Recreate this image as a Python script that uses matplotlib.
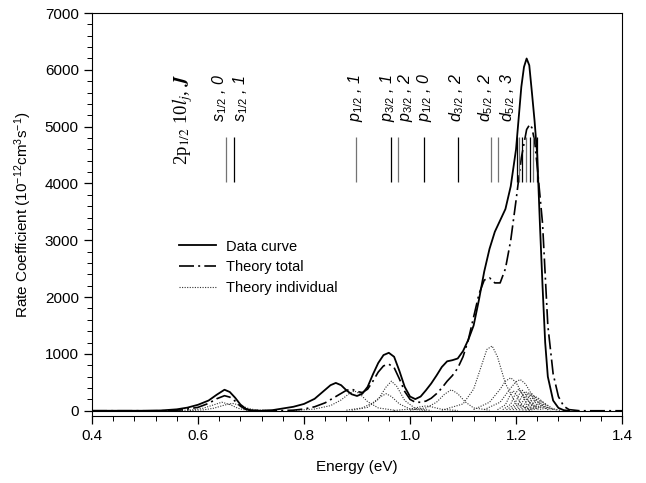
import matplotlib

matplotlib.use("Agg")
import matplotlib.pyplot as plt
from matplotlib.ticker import MultipleLocator

plt.rcParams["font.family"] = ["Liberation Sans", "DejaVu Sans"]
plt.rcParams["mathtext.fontset"] = "custom"
plt.rcParams["mathtext.rm"] = "Liberation Sans"
plt.rcParams["mathtext.it"] = "Liberation Sans:italic"
plt.rcParams["mathtext.bf"] = "Liberation Sans:bold"

# measured rate coefficient (solid line)
data_e = [0.40, 0.50, 0.53, 0.56, 0.58, 0.60, 0.62, 0.635, 0.65, 0.66, 0.67, 0.68, 0.69, 0.70,
          0.72, 0.74, 0.76, 0.78, 0.80, 0.82, 0.835, 0.85, 0.86, 0.87, 0.88, 0.89, 0.90, 0.91,
          0.92, 0.93, 0.94, 0.95, 0.96, 0.97, 0.98, 0.99, 1.00, 1.01, 1.02, 1.03, 1.04, 1.05,
          1.06, 1.07, 1.08, 1.09, 1.10, 1.11, 1.12, 1.13, 1.14, 1.15, 1.16, 1.17, 1.18, 1.19,
          1.20, 1.21, 1.215, 1.22, 1.225, 1.23, 1.235, 1.24, 1.245, 1.25, 1.255, 1.26, 1.27,
          1.28, 1.29, 1.30]
data_v = [0, 0, 5, 25, 55, 105, 180, 280, 370, 330, 230, 110, 35, 8,
          0, 10, 40, 70, 120, 210, 330, 450, 490, 450, 360, 290, 260, 300,
          420, 640, 840, 980, 1020, 950, 700, 420, 250, 205, 250, 360, 480, 620,
          770, 870, 890, 920, 1050, 1250, 1500, 1950, 2450, 2850, 3150, 3350, 3550, 3950,
          4600, 5700, 6050, 6200, 6080, 5600, 5100, 4500, 3300, 2200, 1200, 600, 180,
          50, 10, 0]

# theory total (dash-dot line)
total_e = [0.40, 0.54, 0.57, 0.60, 0.62, 0.635, 0.65, 0.66, 0.67, 0.68, 0.69, 0.70, 0.75,
           0.78, 0.80, 0.82, 0.84, 0.86, 0.88, 0.89, 0.90, 0.91, 0.92, 0.93, 0.94, 0.95,
           0.96, 0.97, 0.98, 0.99, 1.00, 1.01, 1.02, 1.03, 1.04, 1.05, 1.06, 1.07, 1.08,
           1.09, 1.10, 1.11, 1.12, 1.13, 1.14, 1.15, 1.16, 1.17, 1.18, 1.19, 1.20, 1.21,
           1.22, 1.226, 1.23, 1.235, 1.24, 1.25, 1.26, 1.27, 1.28, 1.29, 1.30, 1.32, 1.40]
total_v = [0, 0, 15, 60, 130, 210, 265, 240, 170, 80, 25, 5, 0,
           10, 30, 70, 140, 250, 360, 380, 340, 320, 380, 520, 680, 790,
           820, 760, 560, 340, 200, 150, 150, 170, 220, 300, 400, 520, 620,
           750, 950, 1250, 1650, 2050, 2300, 2340, 2250, 2250, 2500, 3000, 3700, 4450,
           4950, 5040, 4980, 4750, 4300, 3300, 1500, 650, 250, 80, 20, 0, 0]

# theory, individual levels (dotted lines): (energies, values)
theory_individual = [
    ([0.56, 0.59, 0.61, 0.63, 0.645, 0.66, 0.675, 0.69, 0.72], [3, 15, 45, 105, 150, 110, 45, 12, 2]),
    ([0.58, 0.61, 0.63, 0.65, 0.665, 0.68, 0.695, 0.71, 0.74], [3, 15, 45, 100, 130, 95, 40, 12, 2]),
    ([0.78, 0.82, 0.85, 0.87, 0.885, 0.895, 0.905, 0.92, 0.94, 0.97], [5, 30, 90, 190, 300, 350, 300, 160, 50, 10]),
    ([0.88, 0.91, 0.93, 0.945, 0.955, 0.965, 0.98, 1.00, 1.03], [10, 50, 140, 250, 300, 250, 120, 30, 5]),
    ([0.89, 0.92, 0.94, 0.955, 0.965, 0.975, 0.99, 1.01, 1.04], [10, 60, 200, 420, 520, 430, 180, 40, 5]),
    ([0.97, 1.00, 1.02, 1.03, 1.04, 1.06, 1.09], [5, 30, 70, 85, 70, 25, 5]),
    ([1.00, 1.03, 1.05, 1.065, 1.078, 1.09, 1.105, 1.12, 1.15], [10, 50, 150, 290, 370, 300, 150, 50, 10]),
    ([1.06, 1.10, 1.12, 1.135, 1.145, 1.155, 1.165, 1.18, 1.20, 1.23], [10, 120, 380, 800, 1080, 1140, 950, 480, 120, 15]),
    ([1.12, 1.15, 1.17, 1.18, 1.19, 1.20, 1.215, 1.24], [20, 150, 380, 520, 580, 500, 240, 30]),
    ([1.14, 1.17, 1.19, 1.20, 1.208, 1.218, 1.235, 1.26], [20, 150, 400, 510, 550, 470, 200, 20]),
    ([1.165, 1.18, 1.189, 1.195, 1.201, 1.21, 1.225], [18, 105, 280, 350, 280, 105, 18]),
    ([1.175, 1.19, 1.199, 1.205, 1.211, 1.22, 1.235], [19, 114, 304, 380, 304, 114, 19]),
    ([1.182, 1.197, 1.206, 1.212, 1.218, 1.227, 1.242], [18, 108, 288, 360, 288, 108, 18]),
    ([1.188, 1.203, 1.212, 1.218, 1.224, 1.233, 1.248], [17, 102, 272, 340, 272, 102, 17]),
    ([1.194, 1.209, 1.218, 1.224, 1.230, 1.239, 1.254], [16, 96, 256, 320, 256, 96, 16]),
    ([1.200, 1.215, 1.224, 1.230, 1.236, 1.245, 1.260], [15, 90, 240, 300, 240, 90, 15]),
    ([1.206, 1.221, 1.230, 1.236, 1.242, 1.251, 1.266], [13, 78, 208, 260, 208, 78, 13]),
    ([1.212, 1.227, 1.236, 1.242, 1.248, 1.257, 1.272], [11, 66, 176, 220, 176, 66, 11]),
    ([1.218, 1.233, 1.242, 1.248, 1.254, 1.263, 1.278], [9, 51, 136, 170, 136, 51, 9]),
    ([1.224, 1.239, 1.248, 1.254, 1.260, 1.269, 1.284], [6, 36, 96, 120, 96, 36, 6]),
]

# resonance positions marked above the curves
level_e = [0.653, 0.668, 0.898, 0.964, 0.977, 1.026, 1.091, 1.153, 1.166,
           1.202, 1.205, 1.211, 1.219, 1.226, 1.232, 1.240]
level_shade = ["0.45", "k", "0.45", "k", "0.45", "k", "k", "0.45", "0.45",
               "k", "0.45", "k", "0.45", "k", "0.45", "k"]
level_label_e = [0.641, 0.681, 0.898, 0.958, 0.991, 1.027, 1.088, 1.142, 1.184]
level_labels = [r"$s_{1/2}$ , 0", r"$s_{1/2}$ , 1", r"$p_{1/2}$ , 1", r"$p_{3/2}$ , 1",
                r"$p_{3/2}$ , 2", r"$p_{1/2}$ , 0", r"$d_{3/2}$ , 2", r"$d_{5/2}$ , 2",
                r"$d_{5/2}$ , 3"]

fig = plt.figure(figsize=(6.46, 4.83), dpi=100)
ax = fig.add_axes([0.1424, 0.139, 0.8205, 0.834])

ax.axhline(0, color="k", linewidth=0.8)
for energies, values in theory_individual:
    ax.plot(energies, values, color="0.2", linewidth=0.8, linestyle=(0, (1, 1.3)))
ax.plot(total_e, total_v, color="k", linewidth=1.2, linestyle=(0, (9, 2.5, 1.2, 2.5)))
ax.plot(data_e, data_v, color="k", linewidth=1.3)

ax.vlines(level_e, 4020, 4810, colors=level_shade, linewidth=0.9)
for x, label in zip(level_label_e, level_labels):
    ax.text(x, 5080, label, rotation=90, ha="center", va="bottom",
            fontsize=11.5, fontstyle="italic")
ax.text(0.57, 4330, r"2p$_{1/2}$ 10$l_j$, $\mathbfit{J}$", rotation=90, ha="center",
        va="bottom", fontsize=13.5, family="Liberation Serif", math_fontfamily="stix")

# legend entries drawn as empty lines with the same styles
h1, = ax.plot([], [], color="k", linewidth=1.3, label="Data curve")
h2, = ax.plot([], [], color="k", linewidth=1.2, linestyle=(0, (9, 2.5, 1.2, 2.5)),
              label="Theory total")
h3, = ax.plot([], [], color="0.2", linewidth=0.8, linestyle=(0, (1, 1.3)),
              label="Theory individual")
ax.legend(handles=[h1, h2, h3], loc="center left", bbox_to_anchor=(0.266, 0.447),
          bbox_transform=fig.transFigure, frameon=False, fontsize=10.5,
          borderpad=0, handlelength=2.5, handletextpad=0.7, labelspacing=0.45)

ax.set_xlim(0.4, 1.4)
ax.set_ylim(-90, 7000)
ax.xaxis.set_major_locator(MultipleLocator(0.2))
ax.xaxis.set_minor_locator(MultipleLocator(0.04))
ax.yaxis.set_major_locator(MultipleLocator(1000))
ax.yaxis.set_minor_locator(MultipleLocator(200))
ax.xaxis.set_major_formatter(plt.FuncFormatter(lambda v, p: f"{v:.1f}"))
ax.tick_params(which="both", direction="out", top=False, right=False, labelsize=11)
ax.tick_params(which="major", length=6, width=0.9)
ax.tick_params(which="minor", length=3.5, width=0.7)
ax.set_xlabel("Energy (eV)", fontsize=11, labelpad=12)
ax.set_ylabel(r"Rate Coefficient (10$^{-12}$cm$^{3}$s$^{-1}$)", fontsize=11, labelpad=8)

fig.savefig("out.png", dpi=100)
